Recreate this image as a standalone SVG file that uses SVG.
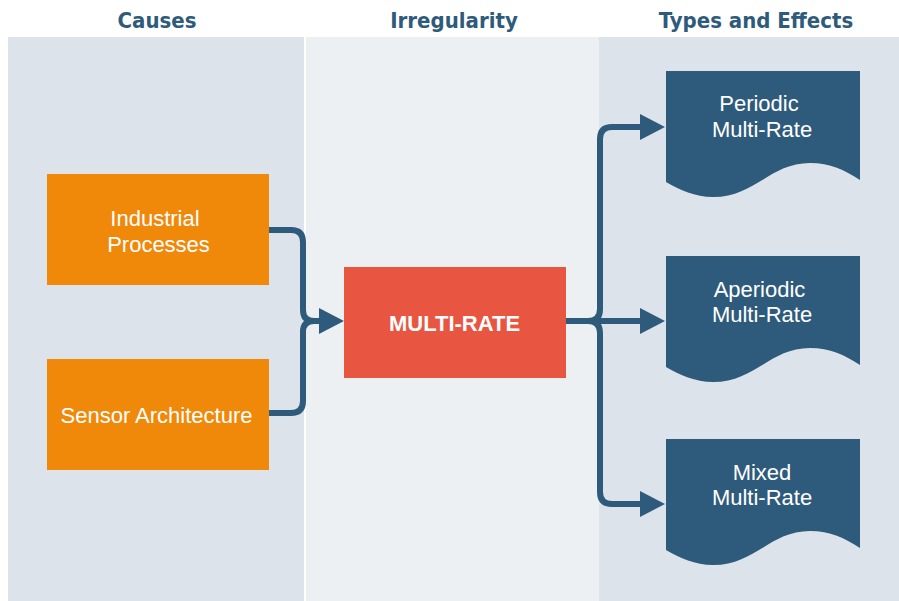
<svg xmlns="http://www.w3.org/2000/svg" width="899" height="601" viewBox="0 0 899 601">
<defs>
<style>
.hdr{font-family:"DejaVu Sans Condensed","Liberation Sans Narrow","Liberation Sans",sans-serif;font-weight:bold;font-size:22px;fill:#2e5b7b;text-anchor:middle}
.lbl{font-family:"Liberation Sans",Arial,sans-serif;font-size:22px;fill:#ffffff;text-anchor:middle}
.bold{font-weight:bold}
.cause{fill:#f0890a}
.doc{fill:#2e5b7b}
.conn{fill:none;stroke:#2e5b7b;stroke-width:6;stroke-linejoin:round}
</style>
<marker id="arr" viewBox="0 0 25 26" refX="1" refY="13" markerWidth="25" markerHeight="26" markerUnits="userSpaceOnUse" orient="auto">
<path d="M0,0 L25,13 L0,26 Z" fill="#2e5b7b"/>
</marker>
</defs>
<rect x="0" y="0" width="899" height="601" fill="#ffffff"/>
<g id="lanes">
<rect x="8" y="37" width="296" height="564" fill="#dde3ea"/>
<rect x="306" y="37" width="293" height="564" fill="#ecf0f3"/>
<rect x="599" y="37" width="300" height="564" fill="#dde3ea"/>
<text class="hdr" x="157" y="28">Causes</text>
<text class="hdr" x="454" y="28">Irregularity</text>
<text class="hdr" x="756" y="28">Types and Effects</text>
</g>
<g id="connectors">
<path class="conn" d="M268,230 H291 Q303,230 303,242 V310 Q303,321 314,321 H320" marker-end="url(#arr)"/>
<path class="conn" d="M268,413 H291 Q303,413 303,401 V332 Q303,321 314,321 H320"/>
<path class="conn" d="M566,321 H588 Q600,321 600,309 V139 Q600,127 612,127 H641" marker-end="url(#arr)"/>
<path class="conn" d="M566,321 H641" marker-end="url(#arr)"/>
<path class="conn" d="M566,321 H588 Q600,321 600,333 V492 Q600,504 612,504 H641" marker-end="url(#arr)"/>
</g>
<g id="industrial">
<rect class="cause" x="47" y="174" width="222" height="111"/>
<text class="lbl" x="155" y="226">Industrial</text>
<text class="lbl" x="158.5" y="252">Processes</text>
</g>
<g id="sensor">
<rect class="cause" x="47" y="359" width="222" height="111"/>
<text class="lbl" x="156.5" y="423">Sensor Architecture</text>
</g>
<g id="multirate">
<rect x="344" y="267" width="222" height="111" fill="#e85642"/>
<text class="lbl bold" x="454.5" y="331">MULTI-RATE</text>
</g>
<g id="periodic">
<path class="doc" d="M666,71 H860 V180 C845,170 830,163 810,163 C770,163 755,197 713,197 C695,197 680,190 666,182 Z"/>
<text class="lbl" x="759" y="111">Periodic</text>
<text class="lbl" x="762" y="137">Multi-Rate</text>
</g>
<g id="aperiodic">
<path class="doc" d="M666,256 H860 V365 C845,355 830,348 810,348 C770,348 755,382 713,382 C695,382 680,375 666,367 Z"/>
<text class="lbl" x="759.5" y="297">Aperiodic</text>
<text class="lbl" x="762" y="322">Multi-Rate</text>
</g>
<g id="mixed">
<path class="doc" d="M666,439 H860 V548 C845,538 830,531 810,531 C770,531 755,565 713,565 C695,565 680,558 666,550 Z"/>
<text class="lbl" x="762" y="480">Mixed</text>
<text class="lbl" x="762" y="505">Multi-Rate</text>
</g>
</svg>
